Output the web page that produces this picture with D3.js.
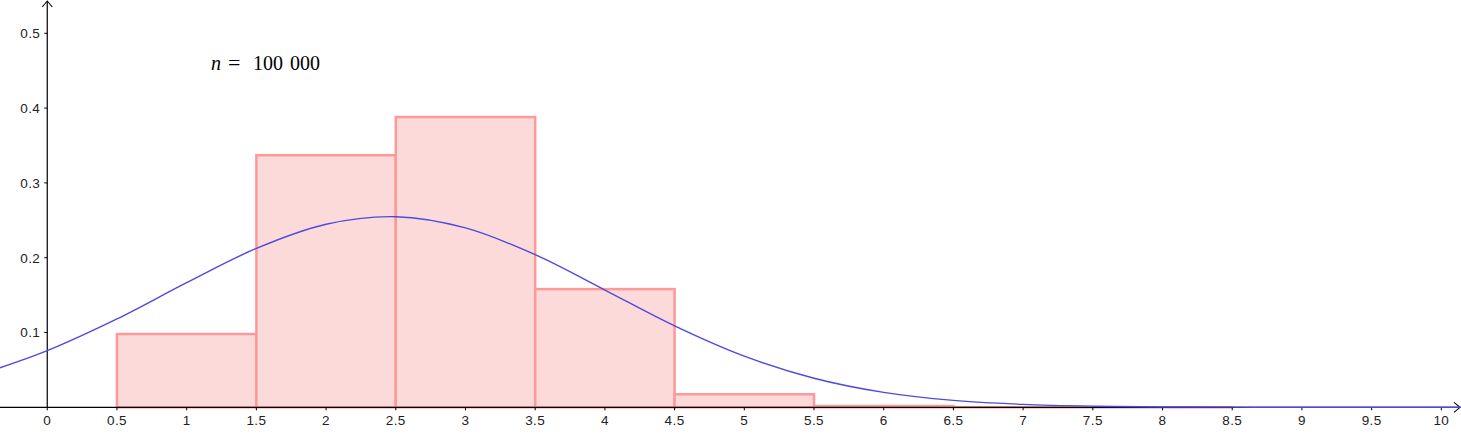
<!DOCTYPE html>
<html>
<head>
<meta charset="utf-8">
<script src="https://cdn.jsdelivr.net/npm/d3@7"></script>
<style>
  html, body { margin: 0; padding: 0; background: #fff; }
  svg { display: block; }
  .tick-label { font-family: "Liberation Sans", Arial, sans-serif; font-size: 13.5px; letter-spacing: 0.4px; fill: #222; }
</style>
</head>
<body>
<svg id="chart" width="1461" height="445"></svg>
<script>
// Histogram classes (lower bound, upper bound) and relative frequencies
const binStarts = [0.5, 1.5, 2.5, 3.5, 4.5, 5.5, 6.5, 7.5];
const binEnds   = [1.5, 2.5, 3.5, 4.5, 5.5, 6.5, 7.5, 8.5];
const binFreqs  = [0.098, 0.337, 0.388, 0.158, 0.0174, 0.0017, 0.0002, 0.00002];

// Density curve
const curveX = [-0.34, 0, 0.5, 1, 1.5, 2, 2.5, 3, 3.5, 4, 4.5, 5, 5.5, 6, 6.5, 7, 7.5, 8, 8.5, 9, 10.14];
const curveY = [0.0528, 0.0757, 0.1181, 0.1666, 0.2124, 0.2447, 0.2548, 0.2398, 0.2040, 0.1568, 0.1089,
                0.0684, 0.0388, 0.0199, 0.0092, 0.0039, 0.0015, 0.0005, 0.0002, 0.00005, 0];

// Tick values
const xTicks = [0, 0.5, 1, 1.5, 2, 2.5, 3, 3.5, 4, 4.5, 5, 5.5, 6, 6.5, 7, 7.5, 8, 8.5, 9, 9.5, 10];
const yTicks = [0.1, 0.2, 0.3, 0.4, 0.5];

const W = 1461, H = 445;
const svg = d3.select("#chart");

const x = d3.scaleLinear().domain([-0.339, 10.141]).range([0, W]);
const y = d3.scaleLinear().domain([-0.0504, 0.5445]).range([H, 0]);

// Bars
const bins = binStarts.map((s, i) => ({x0: s, x1: binEnds[i], f: binFreqs[i]}));
svg.append("g").selectAll("rect")
    .data(bins)
    .enter().append("rect")
    .attr("x", d => x(d.x0))
    .attr("y", d => y(d.f))
    .attr("width", d => x(d.x1) - x(d.x0))
    .attr("height", d => y(0) - y(d.f))
    .attr("fill", "#fcdada")
    .attr("stroke", "#ff9999")
    .attr("stroke-width", 2.5);

// Axes (drawn by hand to look like the GeoGebra graphics view)
const ax = svg.append("g");
ax.append("line")
    .attr("x1", 0).attr("x2", W - 2)
    .attr("y1", y(0)).attr("y2", y(0))
    .attr("stroke", "#000").attr("stroke-width", 1.2);
ax.append("line")
    .attr("x1", x(0)).attr("x2", x(0))
    .attr("y1", y(0)).attr("y2", 1)
    .attr("stroke", "#000").attr("stroke-width", 1.2);

// arrow heads
ax.append("path")
    .attr("d", `M${W - 7},${y(0) - 5} L${W - 1},${y(0)} L${W - 7},${y(0) + 5}`)
    .attr("fill", "none").attr("stroke", "#000").attr("stroke-width", 1.1);
ax.append("path")
    .attr("d", `M${x(0) - 5},${7} L${x(0)},${1} L${x(0) + 5},${7}`)
    .attr("fill", "none").attr("stroke", "#000").attr("stroke-width", 1.1);

// x ticks + labels
ax.selectAll(".xt")
    .data(xTicks)
    .enter().append("line")
    .attr("class", "xt")
    .attr("x1", d => x(d)).attr("x2", d => x(d))
    .attr("y1", y(0)).attr("y2", y(0) + 3)
    .attr("stroke", "#000").attr("stroke-width", 1);
ax.selectAll(".xl")
    .data(xTicks)
    .enter().append("text")
    .attr("class", "tick-label")
    .attr("x", d => x(d))
    .attr("y", y(0) + 18)
    .attr("text-anchor", "middle")
    .text(d => String(d));

// y ticks + labels
ax.selectAll(".yt")
    .data(yTicks)
    .enter().append("line")
    .attr("class", "yt")
    .attr("x1", x(0) - 3).attr("x2", x(0))
    .attr("y1", d => y(d)).attr("y2", d => y(d))
    .attr("stroke", "#000").attr("stroke-width", 1);
ax.selectAll(".yl")
    .data(yTicks)
    .enter().append("text")
    .attr("class", "tick-label")
    .attr("x", x(0) - 7)
    .attr("y", d => y(d) + 5)
    .attr("text-anchor", "end")
    .text(d => String(d));

// Density curve
const pts = curveX.map((v, i) => [v, curveY[i]]);
const line = d3.line()
    .x(d => x(d[0]))
    .y(d => y(d[1]))
    .curve(d3.curveCatmullRom.alpha(0.5));
svg.append("path")
    .datum(pts)
    .attr("d", line)
    .attr("fill", "none")
    .attr("stroke", "#4b4be0")
    .attr("stroke-width", 1.4);

// n = 100 000 label
const lab = svg.append("text")
    .attr("y", 70)
    .attr("font-family", "'Liberation Serif', 'DejaVu Serif', serif")
    .attr("font-size", 20)
    .attr("fill", "#000");
lab.append("tspan").attr("x", 211).attr("font-style", "italic").text("n");
lab.append("tspan").attr("x", 228).attr("font-size", 22).text("=");
lab.append("tspan").attr("x", 253).text("100");
lab.append("tspan").attr("x", 290).text("000");
</script>
</body>
</html>
